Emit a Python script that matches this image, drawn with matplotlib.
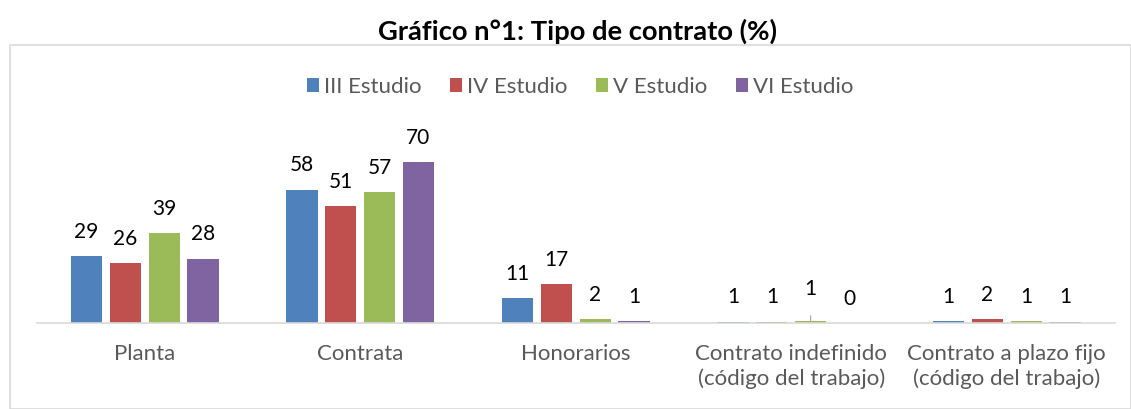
import numpy as np
import matplotlib
matplotlib.use("Agg")
import matplotlib.pyplot as plt
from matplotlib.patches import Rectangle

plt.rcParams['font.family'] = ['Lato', 'DejaVu Sans']

categories = ["Planta", "Contrata", "Honorarios",
              "Contrato indefinido\n(código del trabajo)",
              "Contrato a plazo fijo\n(código del trabajo)"]
series = ["III Estudio", "IV Estudio", "V Estudio", "VI Estudio"]
iii = [29, 58, 11, 0.6, 0.7]
iv = [26, 51, 17, 0.6, 1.8]
v = [39, 57, 1.6, 0.8, 0.9]
vi = [28, 70, 0.8, 0.0, 0.6]
colors = ["#4F81BD", "#C0504D", "#9BBB59", "#8064A2"]

fig = plt.figure(figsize=(11.31, 4.09), dpi=100)
W, H = 1131, 409

# outer chart border
fig.patches.append(Rectangle((10 / W, 0), 1 - 10 / W, 1 - 45 / H, transform=fig.transFigure,
                             fill=False, edgecolor="#d9d9d9", linewidth=1.2))

ax = fig.add_axes([37 / W, 86 / H, 1077.5 / W, 213 / H])
x = np.arange(len(categories))
bw = 0.145
step = 0.18
for i, (vals, c, name) in enumerate(zip([iii, iv, v, vi], colors, series)):
    pos = x + (i - 1.5) * step
    ax.bar(pos, vals, width=bw, color=c, label=name)
    for j, (p, val) in enumerate(zip(pos, vals)):
        if i == 2 and j == 3:
            # raised label with leader line
            ax.annotate("%.0f" % val, xy=(p, val), xytext=(p, val + 14), ha="center", va="center",
                        fontsize=15, color="black",
                        arrowprops=dict(arrowstyle="-", color="#a6a6a6", lw=0.8, shrinkA=10, shrinkB=0))
        else:
            ax.text(p, val + 10.5, "%.0f" % val, ha="center", va="center",
                    fontsize=15, color="black")

ax.set_xlim(-0.5, len(categories) - 0.5)
ax.set_ylim(0, 92.6)
ax.set_xticks(x)
ax.set_xticklabels(categories, fontsize=16, color="#595959", linespacing=1.3)
ax.tick_params(axis="x", length=0, pad=15)
ax.set_yticks([])
for s in ["top", "right", "left"]:
    ax.spines[s].set_visible(False)
ax.spines["bottom"].set_color("#d9d9d9")
ax.spines["bottom"].set_linewidth(1.2)
ax.set_facecolor("none")

fig.text(577 / W, 1 - 31 / H, "Gráfico n°1: Tipo de contrato (%)", ha="center", va="center",
         fontsize=19.7, fontweight="bold")

fig.legend(loc="center", bbox_to_anchor=(580 / W, 1 - 87 / H), ncol=4, frameon=False,
           fontsize=16, handlelength=0.55, handleheight=0.55, handletextpad=0.2,
           columnspacing=1.3, labelcolor="#595959")

fig.savefig("out.png", dpi=100)
